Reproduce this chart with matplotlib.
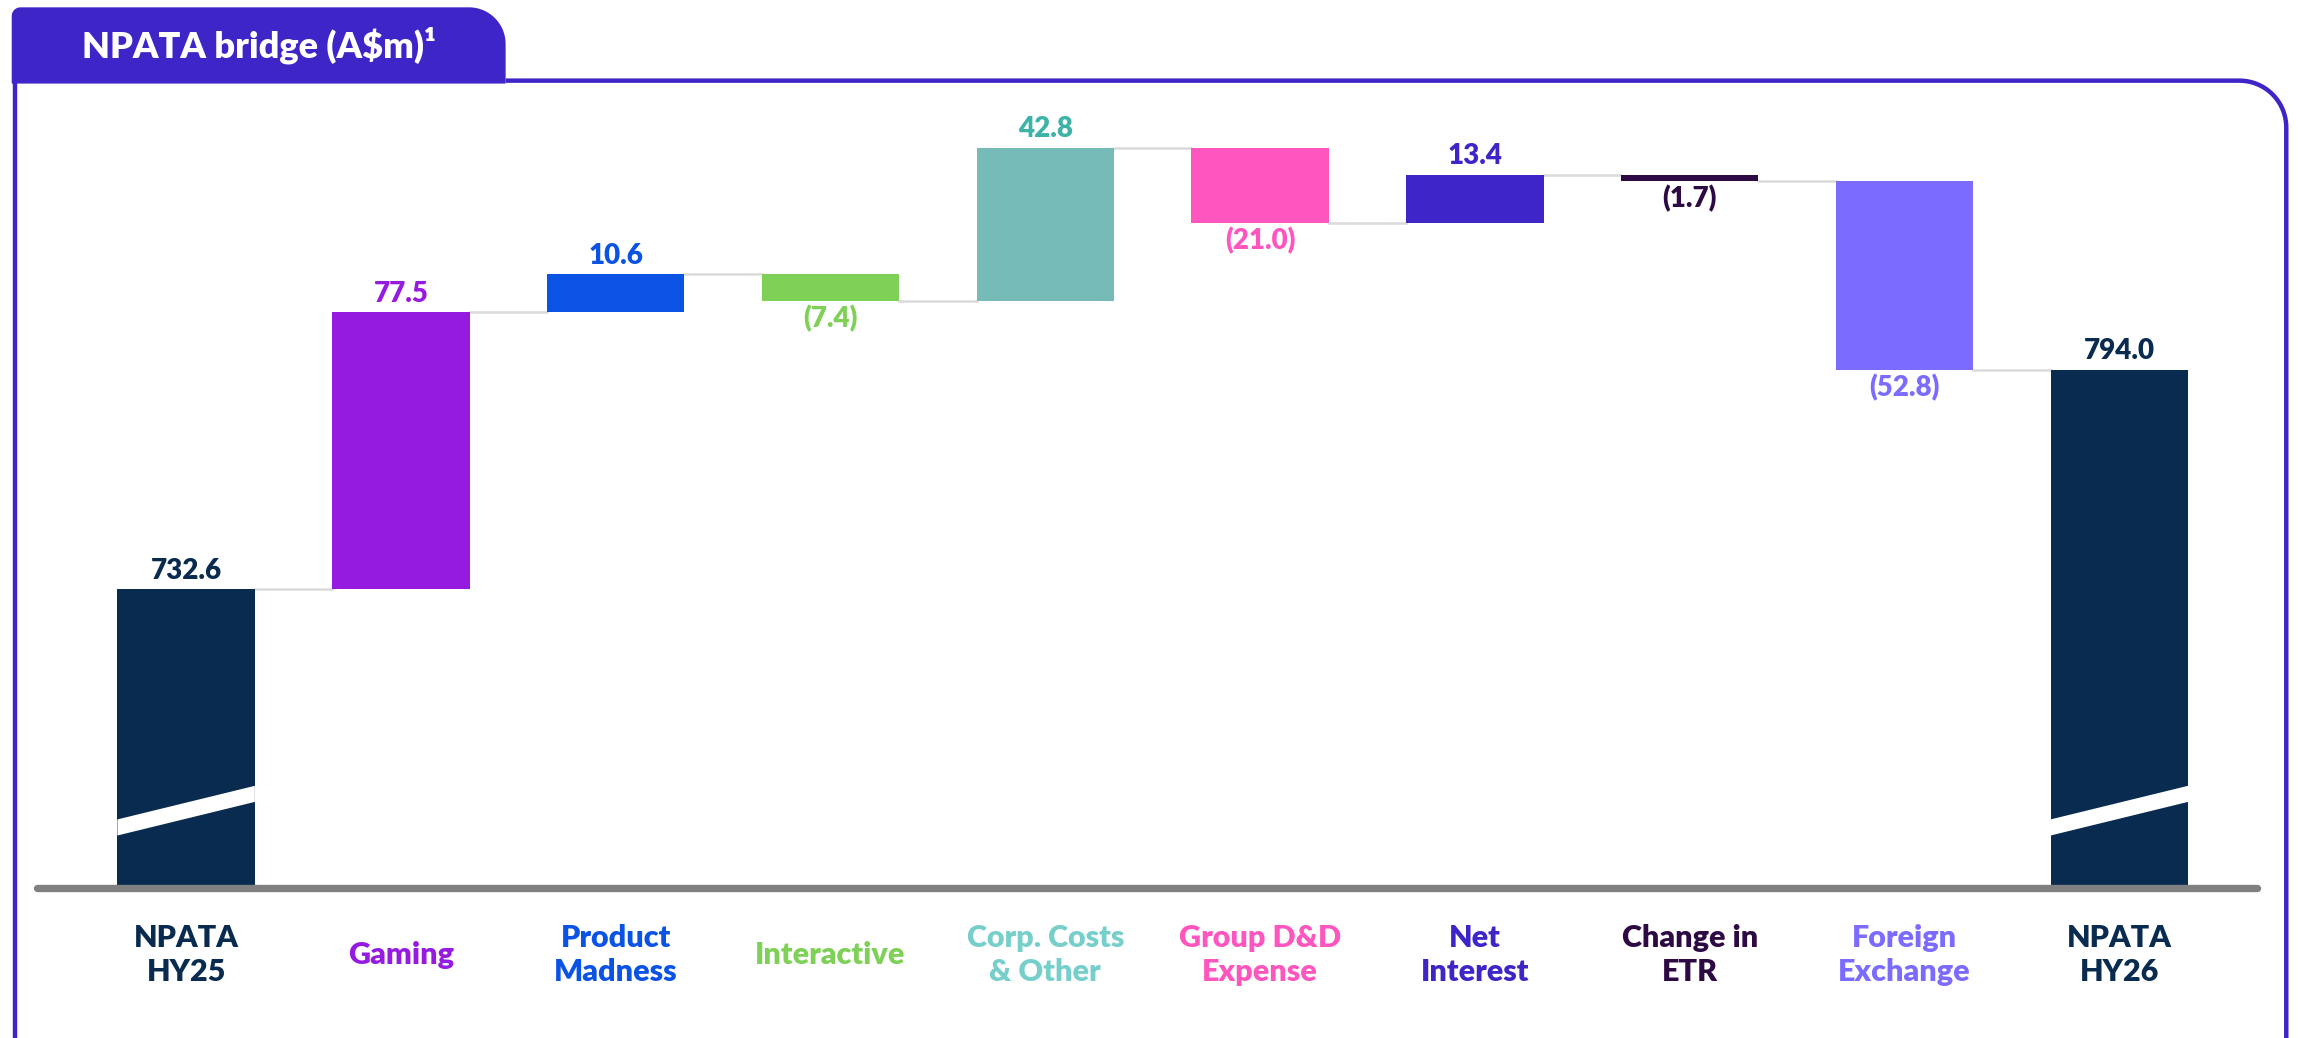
import numpy as np
import matplotlib.pyplot as plt
from matplotlib.patches import Polygon

plt.rcParams['font.family'] = ['Lato', 'DejaVu Sans']
plt.rcParams['font.weight'] = 'bold'

# Data
categories = ["NPATA\nHY25", "Gaming", "Product\nMadness", "Interactive",
              "Corp. Costs\n& Other", "Group D&D\nExpense", "Net\nInterest",
              "Change in\nETR", "Foreign\nExchange", "NPATA\nHY26"]
start_value = 732.6
changes = [77.5, 10.6, -7.4, 42.8, -21.0, 13.4, -1.7, -52.8]
end_value = 794.0

bar_colors = ["#082B4F", "#961BE1", "#0A53E4", "#7ED056", "#76BBB8",
              "#FF55BE", "#3D25C8", "#2E0A45", "#7B6CFF", "#082B4F"]
value_colors = ["#082B4F", "#961BE1", "#0A53E4", "#7ED056", "#3DB3A8",
                "#FF55BE", "#3D25C8", "#2E0A45", "#7B6CFF", "#082B4F"]
cat_colors = ["#082B4F", "#961BE1", "#0A53E4", "#7ED056", "#76CFCB",
              "#FF55BE", "#3D25C8", "#2E0A45", "#7B6CFF", "#082B4F"]

accent = "#3D25C8"
axis_floor = 649.0   # truncated axis bottom

# running totals
changes = np.array(changes)
ends = start_value + np.cumsum(changes)
starts = ends - changes
x = np.arange(len(categories))
width = 0.64

fig = plt.figure(figsize=(22.98, 10.38), dpi=100)

# ---- frame / tab (drawn in a pixel-like overlay, 1568 x 708 units) ----
frame = fig.add_axes([0, 0, 1, 1], zorder=0)
frame.set_xlim(0, 1568)
frame.set_ylim(708, 0)
frame.axis('off')

def arc(cx, cy, r, a0, a1, n=30):
    t = np.radians(np.linspace(a0, a1, n))
    return list(zip(cx + r * np.cos(t), cy + r * np.sin(t)))

tab_pts = [(8, 57), (8, 11)] + arc(14, 11, 6, 180, 270) + [(320, 5)] + \
          arc(320, 30, 25, -90, 0) + [(345, 57)]
frame.add_patch(Polygon(tab_pts, closed=True, facecolor=accent, edgecolor='none'))
frame.text(177, 31, "NPATA bridge (A\\$m)¹", color='white', fontsize=26,
           fontweight='heavy', ha='center', va='center')

line_pts = [(345, 55), (1528, 55)] + arc(1528, 87, 32, -90, 0) + [(1560, 720)]
lx, ly = zip(*line_pts)
frame.plot(lx, ly, color=accent, lw=3.2, solid_capstyle='butt')
frame.plot([10, 10], [56, 720], color=accent, lw=3.2)

# ---- waterfall ----
ax = fig.add_axes([25 / 1568, 1 - 606 / 708, 1515 / 1568, 546 / 708], zorder=1)
ax.patch.set_alpha(0)
ax.set_xlim(-0.696, 9.641)
ax.set_ylim(axis_floor, 872.8)
ax.axis('off')

bottoms = np.concatenate([[axis_floor], np.minimum(starts, ends), [axis_floor]])
heights = np.concatenate([[start_value - axis_floor], np.abs(changes), [end_value - axis_floor]])
ax.bar(x, heights, bottom=bottoms, width=width, color=bar_colors, zorder=3)

# connectors
levels = np.concatenate([[start_value], ends])
for i, lev in enumerate(levels):
    ax.plot([x[i] + width / 2, x[i + 1] - width / 2], [lev, lev],
            color="#DADADA", lw=1.8, zorder=2)

# break marks on the total bars
for i in (0, len(x) - 1):
    xl, xr = x[i] - width / 2, x[i] + width / 2
    band = [(xl, axis_floor + 14.8), (xr, axis_floor + 24.2),
            (xr, axis_floor + 28.7), (xl, axis_floor + 19.3)]
    ax.add_patch(Polygon(band, closed=True, facecolor='white', edgecolor='none', zorder=4))

# baseline
ax.axhline(axis_floor, color="#808080", lw=5.3, solid_capstyle='round', clip_on=False, zorder=5)

# value labels
tops = np.concatenate([[start_value], np.maximum(starts, ends), [end_value]])
lows = bottoms
vals = np.concatenate([[start_value], changes, [end_value]])
for i, v in enumerate(vals):
    if v >= 0:
        ax.annotate(f"{v:.1f}", (x[i], tops[i]), xytext=(0, 4), textcoords='offset points',
                    ha='center', va='bottom', fontsize=20, fontweight='heavy',
                    color=value_colors[i])
    else:
        ax.annotate(f"({abs(v):.1f})", (x[i], lows[i]), xytext=(0, -3), textcoords='offset points',
                    ha='center', va='top', fontsize=20, fontweight='heavy',
                    color=value_colors[i])

# category labels
for i, c in enumerate(categories):
    ax.annotate(c, (x[i], axis_floor), xytext=(0, -48), textcoords='offset points',
                ha='center', va='center', multialignment='center', fontsize=22,
                fontweight='heavy', color=cat_colors[i], linespacing=1.25,
                annotation_clip=False)

fig.savefig("out.png", dpi=100)
